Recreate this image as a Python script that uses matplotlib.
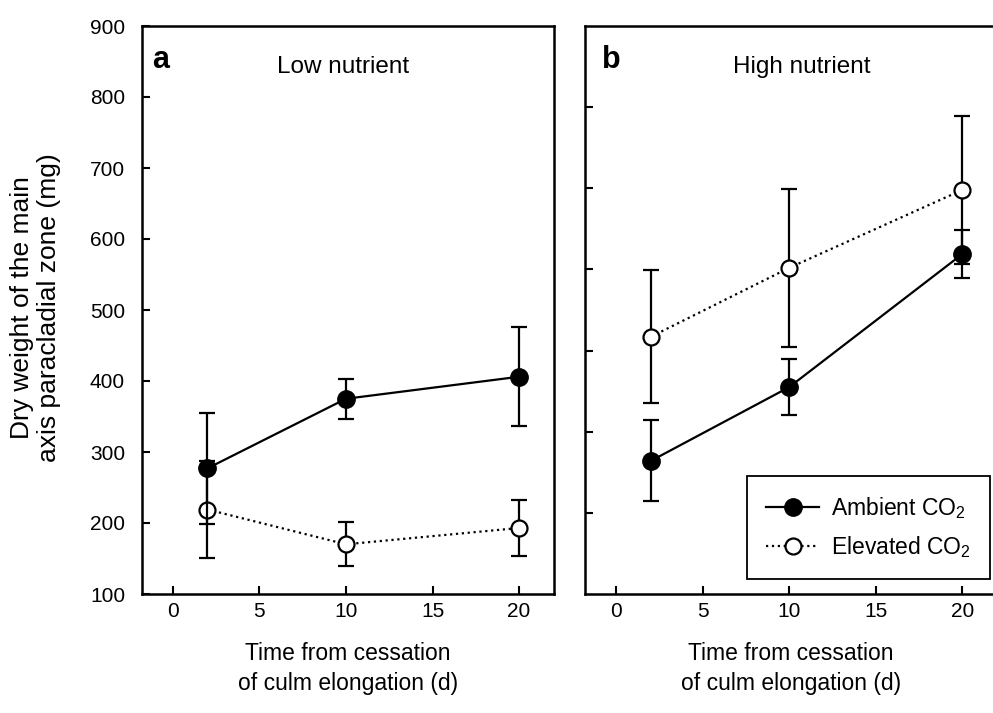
import matplotlib
matplotlib.use("Agg")
import matplotlib.pyplot as plt
from matplotlib.lines import Line2D

# -------- Data --------
days = [2, 10, 20]

low_ambient = [277, 375, 406]
low_ambient_err = [78, 28, 70]
low_elevated = [219, 170, 193]
low_elevated_err = [68, 31, 40]

high_ambient = [264, 355, 519]
high_ambient_err = [50, 35, 30]
high_elevated = [417, 502, 598]
high_elevated_err = [82, 97, 91]

x_ticks = [0, 5, 10, 15, 20]
y_ticks_a = [100, 200, 300, 400, 500, 600, 700, 800, 900]
y_ticks_b = [200, 300, 400, 500, 600, 700]

# -------- Style --------
plt.rcParams["font.family"] = ["Liberation Sans", "DejaVu Sans"]
plt.rcParams["mathtext.fontset"] = "custom"
plt.rcParams["mathtext.rm"] = "Liberation Sans"
plt.rcParams["mathtext.it"] = "Liberation Sans:italic"

W, H = 993, 713
fig = plt.figure(figsize=(W / 100, H / 100), dpi=100)

ax_w = 412 / W
ax_h = 568 / H
bottom = (H - 594) / H
ax_a = fig.add_axes([141.7 / W, bottom, ax_w, ax_h])
ax_b = fig.add_axes([585 / W, bottom, ax_w, ax_h])

XLABEL = "Time from cessation\nof culm elongation (d)"


def draw(ax, amb, amb_err, elev, elev_err):
    ax.errorbar(days, elev, yerr=elev_err, fmt="o", linestyle=":", color="black",
                mfc="white", mec="black", mew=1.6, ms=11.5, lw=1.6,
                elinewidth=1.6, capsize=6, capthick=1.6, zorder=2)
    ax.errorbar(days, amb, yerr=amb_err, fmt="o", linestyle="-", color="black",
                mfc="black", mec="black", ms=12.5, lw=1.6,
                elinewidth=1.6, capsize=6, capthick=1.6, zorder=3)
    ax.set_xlim(-1.8, 22)
    ax.set_xticks(x_ticks)
    ax.tick_params(direction="in", length=6, width=1.5, labelsize=15)
    ax.tick_params(axis="x", pad=6)
    ax.tick_params(axis="y", pad=12)
    for s in ax.spines.values():
        s.set_linewidth(1.8)
    ax.set_xlabel(XLABEL, fontsize=16.5, linespacing=1.4)
    ax.xaxis.set_label_coords(0.5, -0.085, transform=ax.transAxes)
    ax.xaxis.label.set_va("top")


draw(ax_a, low_ambient, low_ambient_err, low_elevated, low_elevated_err)
ax_a.set_ylim(100, 900)
ax_a.set_yticks(y_ticks_a)
ax_a.set_ylabel("Dry weight of the main\naxis paracladial zone (mg)",
                fontsize=19, linespacing=1.15)
ax_a.yaxis.set_label_coords(61 / W, (H - 308) / H, transform=fig.transFigure)
ax_a.text(0.026, 0.94, "a", transform=ax_a.transAxes, fontsize=22,
          fontweight="bold", va="center", ha="left")
ax_a.text(0.488, 0.928, "Low nutrient", transform=ax_a.transAxes, fontsize=17.5,
          va="center", ha="center")

draw(ax_b, high_ambient, high_ambient_err, high_elevated, high_elevated_err)
ax_b.set_ylim(100, 800)
ax_b.set_yticks(y_ticks_b)
ax_b.set_yticklabels([])
ax_b.text(0.042, 0.94, "b", transform=ax_b.transAxes, fontsize=22,
          fontweight="bold", va="center", ha="left")
ax_b.text(0.526, 0.928, "High nutrient", transform=ax_b.transAxes, fontsize=17.5,
          va="center", ha="center")

handles = [
    Line2D([], [], color="black", lw=1.6, marker="o", ms=12.5, mfc="black"),
    Line2D([], [], color="black", lw=1.6, ls=":", marker="o", ms=11.5,
           mfc="white", mew=1.6),
]
labels = ["Ambient CO$_2$", "Elevated CO$_2$"]
leg = ax_b.legend(handles, labels, loc="lower right",
                  bbox_to_anchor=(990 / W, (H - 579) / H),
                  bbox_transform=fig.transFigure, fontsize=16.5,
                  fancybox=False, framealpha=1, edgecolor="black",
                  handlelength=2.3, borderpad=0.85, labelspacing=0.55,
                  handletextpad=0.5, borderaxespad=0)
leg.get_frame().set_linewidth(1.3)

fig.savefig("out.png", dpi=100)
